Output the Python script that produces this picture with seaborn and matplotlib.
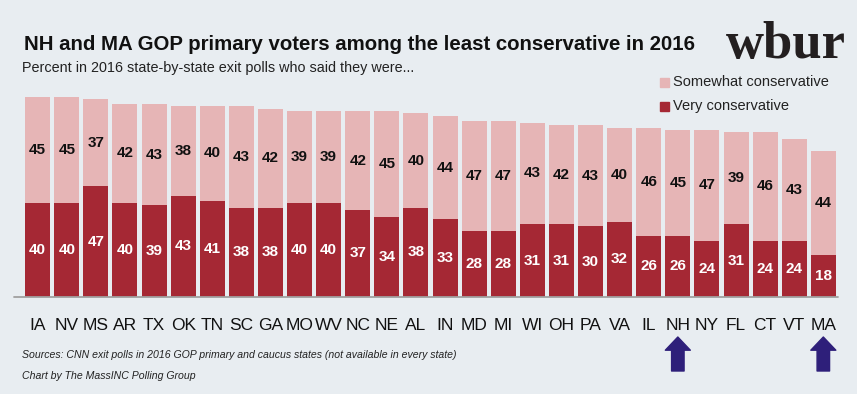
import matplotlib
matplotlib.use("Agg")
import matplotlib.pyplot as plt
import pandas as pd
import seaborn as sns

# Exit poll shares (%) by state, sorted by total conservative
states = ['IA', 'NV', 'MS', 'AR', 'TX', 'OK', 'TN', 'SC', 'GA', 'MO', 'WV', 'NC', 'NE', 'AL',
          'IN', 'MD', 'MI', 'WI', 'OH', 'PA', 'VA', 'IL', 'NH', 'NY', 'FL', 'CT', 'VT', 'MA']
very = [40, 40, 47, 40, 39, 43, 41, 38, 38, 40, 40, 37, 34, 38,
        33, 28, 28, 31, 31, 30, 32, 26, 26, 24, 31, 24, 24, 18]
somewhat = [45, 45, 37, 42, 43, 38, 40, 43, 42, 39, 39, 42, 45, 40,
            44, 47, 47, 43, 42, 43, 40, 46, 45, 47, 39, 46, 43, 44]
highlight = ['NH', 'MA']

df = pd.DataFrame({'state': states, 'very': very, 'somewhat': somewhat})
df['total'] = df['very'] + df['somewhat']

BG = '#e8edf1'
LIGHT = '#e6b5b6'
DARK = '#a52834'
ARROW = '#2e1f7a'

sns.set_style('white')
plt.rcParams['font.family'] = ['Liberation Sans', 'DejaVu Sans']

W, H = 857, 394
fig = plt.figure(figsize=(W / 100, H / 100), dpi=100, facecolor=BG)
ax = fig.add_axes([24 / W, (H - 297) / H, (837 - 24) / W, 200 / H])
ax.set_facecolor(BG)

# stacked bars: full height in light pink, "very" share on top in dark red
sns.barplot(data=df, x='state', y='total', color=LIGHT, width=0.86,
            saturation=1, ax=ax, order=states, linewidth=0, edgecolor='none')
sns.barplot(data=df, x='state', y='very', color=DARK, width=0.86,
            saturation=1, ax=ax, order=states, linewidth=0, edgecolor='none')

ax.set_xlim(-0.47, len(states) - 0.53)
ax.set_ylim(0, 85)
for s in ax.spines.values():
    s.set_visible(False)
ax.set_yticks([])
ax.set_xlabel('')
ax.set_ylabel('')
ax.tick_params(axis='x', length=0, pad=15, labelsize=12.5, labelcolor='#111111')
ax.axhline(0, xmin=-0.012, xmax=1.001, color='#a0a0a0', lw=1.3, clip_on=False)

# value labels
for i, row in df.iterrows():
    ax.text(i, row['very'] / 2, str(row['very']), ha='center', va='center',
            color='white', fontsize=11, fontweight='bold')
    ax.text(i, row['very'] + row['somewhat'] / 2, str(row['somewhat']), ha='center',
            va='center', color='#111111', fontsize=11, fontweight='bold')

# arrows under highlighted states
for st in highlight:
    xi = states.index(st)
    ax.annotate('', xy=(xi, H - 337), xytext=(xi, H - 371),
                xycoords=('data', 'figure pixels'), textcoords=('data', 'figure pixels'),
                arrowprops=dict(width=9, headwidth=18, headlength=9.5, color=ARROW, shrink=0))

# titles and notes
fig.text(24 / W, 1 - 45 / H, 'NH and MA GOP primary voters among the least conservative in 2016',
         fontsize=14.7, fontweight='bold', va='center', ha='left', color='#111111')
fig.text(22 / W, 1 - 68 / H, 'Percent in 2016 state-by-state exit polls who said they were...',
         fontsize=10.4, va='center', ha='left', color='#222222')
fig.text(846 / W, 1 - 58 / H, 'wbur', fontsize=38, fontweight='bold', va='baseline', ha='right',
         family=['Liberation Serif', 'DejaVu Serif'], color='#231f20')

# legend
for k, (lab, col) in enumerate([('Somewhat conservative', LIGHT), ('Very conservative', DARK)]):
    y = 1 - (82 + 24 * k) / H
    fig.patches.append(plt.Rectangle((660 / W, y - 4.5 / H), 9 / W, 9 / H, transform=fig.transFigure,
                                     color=col, figure=fig))
    fig.text(673 / W, y, lab, fontsize=10.5, va='center', ha='left', color='#222222')

fig.text(22 / W, 1 - 355 / H,
         'Sources: CNN exit polls in 2016 GOP primary and caucus states (not available in every state)',
         fontsize=7.6, style='italic', va='center', ha='left', color='#222222')
fig.text(22 / W, 1 - 376 / H, 'Chart by The MassINC Polling Group',
         fontsize=7.6, style='italic', va='center', ha='left', color='#222222')

fig.savefig('out.png', dpi=100, facecolor=BG)
